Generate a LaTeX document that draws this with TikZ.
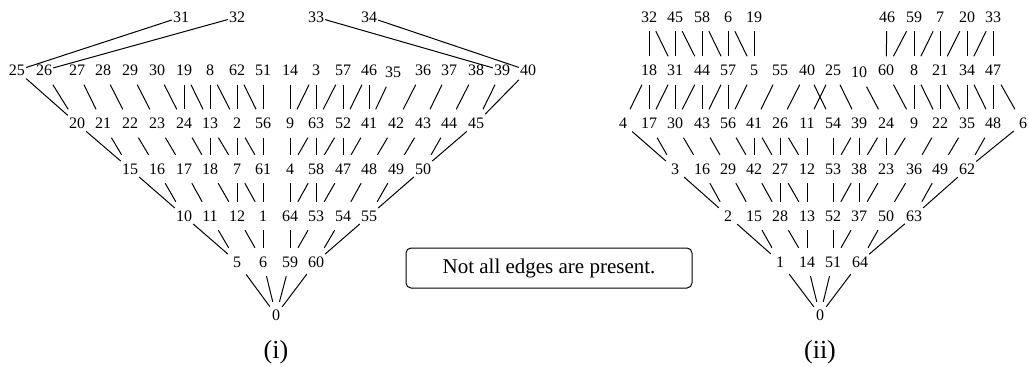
\documentclass[tikz,border=0pt]{standalone}
\usepackage{fontspec}
\setmainfont{Liberation Serif}
\begin{document}
\begin{tikzpicture}[x=1pt,y=-1pt,
  num/.style={rectangle,minimum width=18pt,minimum height=28pt,inner sep=0pt,font=\fontsize{16}{19}\selectfont},
  zero/.style={rectangle,minimum width=12pt,minimum height=26pt,inner sep=0pt,font=\fontsize{16}{19}\selectfont},
  edge/.style={line width=1pt},
  caption/.style={font=\fontsize{26}{30}\selectfont},
  notebox/.style={draw,line width=1pt,rounded corners=5pt,minimum width=286pt,minimum height=40pt,font=\fontsize{21}{24}\selectfont}
]
\useasboundingbox (0,0) rectangle (1029,367);
% ---------- diagram (i) ----------
\foreach \n/\x/\y in {31/181/17,32/237/17,33/316/17,34/369/17,
  25/17/70.5,26/44/70.5,27/77/70.5,28/103/70.5,29/130/70.5,30/157/70.5,19/184/70.5,8/210/70.5,62/237/70.5,51/263/70.5,
  14/290/70.5,3/316/70.5,57/343/70.5,46/369/70.5,35/393/72.5,36/423/70.5,37/449/70.5,38/476/70.5,39/502/70.5,40/528/70.5,
  20/77/123.5,21/103/123.5,22/130/123.5,23/157/123.5,24/184/123.5,13/210/123.5,2/237/123.5,56/263/123.5,
  9/290/123.5,63/316/123.5,52/343/123.5,41/369/123.5,42/396/123.5,43/423/123.5,44/449/123.5,45/476/123.5,
  15/130/169,16/157/169,17/184/169,18/210/169,7/237/169,61/263/169,4/290/169,58/316/169,47/343/169,48/369/169,49/396/169,50/423/169,
  10/184/216,11/210/216,12/237/216,1/263/216,64/290/216,53/316/216,54/343/216,55/369/216,
  5/237/262,6/263/262,59/290/262,60/316/262}
  \node[num] (a\n) at (\x,\y) {\n};
\node[zero] (a0) at (276,315) {0};
\node[caption] (capi) at (276,352) {(i)};
\foreach \p/\q in {31/25,32/26,33/39,34/40,
  25/20,26/20,27/21,28/22,29/23,30/24,19/24,19/13,8/13,8/2,62/2,62/56,51/56,14/9,3/9,3/63,57/63,57/52,46/52,46/41,35/41,36/42,37/43,38/44,39/45,40/45,
  20/15,21/15,22/16,23/17,24/18,13/18,13/7,2/7,2/61,56/61,9/4,63/4,63/58,52/58,52/47,41/47,42/48,43/49,44/50,45/50,
  15/10,16/10,17/11,18/12,7/12,7/1,61/1,4/64,58/64,58/53,47/53,48/54,49/55,50/55,
  10/5,11/5,12/6,1/6,64/59,53/59,54/60,55/60,
  5/0,6/0,59/0,60/0}
  \draw[edge] (a\p) -- (a\q);
% ---------- diagram (ii) ----------
\foreach \n/\x/\y in {32/649/17,45/675/17,58/702/17,6/728/17,19/754/17,46/887/17,59/914/17,7/940/17,20/967/17,33/993/17,
  18/649/70.5,31/675/70.5,44/702/70.5,57/728/70.5,5/754/70.5,55/780/70.5,40/807/70.5,25/833/70.5,10/859/72.5,60/886/70.5,8/914/70.5,21/940/70.5,34/967/70.5,47/993/70.5,
  4/623/123.5,17/649/123.5,30/675/123.5,43/702/123.5,56/728/123.5,41/754/123.5,26/780/123.5,11/807/123.5,54/833/123.5,39/859/123.5,24/886/123.5,9/914/123.5,22/940/123.5,35/967/123.5,48/993/123.5,
  3/675/169,16/702/169,29/728/169,42/754/169,27/780/169,12/807/169,53/833/169,38/859/169,23/886/169,36/914/169,49/940/169,62/967/169,
  2/728/216,15/754/216,28/780/216,13/807/216,52/833/216,37/859/216,50/886/216,63/914/216,
  1/780/262,14/807/262,51/833/262,64/860/262}
  \node[num] (b\n) at (\x,\y) {\n};
\node[num] (b61) at (1023,123.5) {6};
\node[zero] (b0) at (820,315) {0};
\node[caption] (capii) at (820,352) {(ii)};
\foreach \p/\q in {32/18,32/31,45/31,45/44,58/44,58/57,6/57,6/5,19/5,
  46/60,59/60,59/8,7/8,7/21,20/21,20/34,33/34,33/47,
  18/4,18/17,31/17,31/30,44/30,44/43,57/43,57/56,5/56,55/41,40/26,40/54,25/11,25/39,10/24,60/9,8/9,8/22,21/22,21/35,34/35,34/48,47/48,47/61,
  4/3,17/3,30/16,43/29,56/42,41/42,41/27,26/27,26/12,11/12,54/53,39/53,39/38,24/38,24/23,9/23,22/36,35/49,48/62,61/62,
  3/2,16/2,29/15,42/28,27/28,27/13,12/13,53/52,38/52,38/37,23/37,36/50,49/63,62/63,
  2/1,15/1,28/14,13/14,52/51,37/51,50/64,63/64,
  1/0,14/0,51/0,64/0}
  \draw[edge] (b\p) -- (b\q);
% ---------- note ----------
\node[notebox] (note) at (549,268) {Not all edges are present.};
\end{tikzpicture}
\end{document}
